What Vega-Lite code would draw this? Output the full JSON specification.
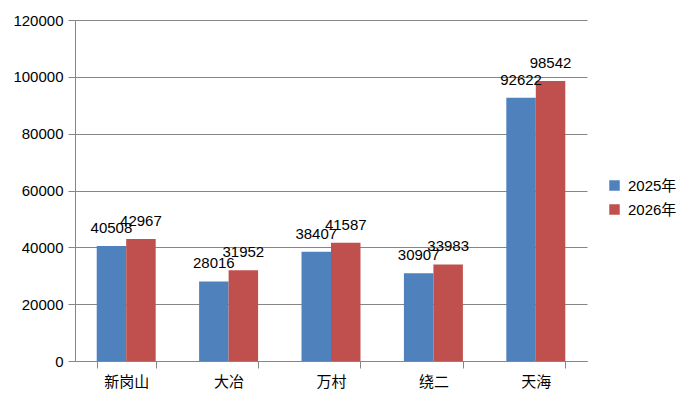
{
  "$schema": "https://vega.github.io/schema/vega-lite/v6.json",
  "width": 512,
  "height": 341,
  "autosize": {"type": "none"},
  "padding": {"left": 75, "top": 20, "right": 107, "bottom": 44},
  "background": "white",
  "config": {
    "font": "Liberation Sans, Noto Sans CJK SC",
    "view": {"stroke": null},
    "axis": {"labelFont": "Liberation Sans, Noto Sans CJK SC", "labelFontSize": 15, "labelColor": "#000000"},
    "legend": {"labelFont": "Liberation Sans, Noto Sans CJK SC", "labelFontSize": 15, "labelColor": "#000000"}
  },
  "data": {
    "values": [
      {"site": "新岗山", "year": "2025年", "value": 40508},
      {"site": "新岗山", "year": "2026年", "value": 42967},
      {"site": "大冶", "year": "2025年", "value": 28016},
      {"site": "大冶", "year": "2026年", "value": 31952},
      {"site": "万村", "year": "2025年", "value": 38407},
      {"site": "万村", "year": "2026年", "value": 41587},
      {"site": "绕二", "year": "2025年", "value": 30907},
      {"site": "绕二", "year": "2026年", "value": 33983},
      {"site": "天海", "year": "2025年", "value": 92622},
      {"site": "天海", "year": "2026年", "value": 98542}
    ]
  },
  "encoding": {
    "x": {
      "field": "site", "type": "nominal", "sort": null, "title": null,
      "scale": {"paddingInner": 0.424, "paddingOuter": 0.212},
      "axis": {"labelAngle": 0, "tickBand": "extent", "tickSize": 7, "tickColor": "#868686", "domainColor": "#868686", "labelPadding": 6, "grid": false}
    },
    "xOffset": {"field": "year", "type": "nominal", "scale": {"paddingInner": 0, "paddingOuter": 0}},
    "y": {
      "field": "value", "type": "quantitative", "title": null,
      "scale": {"domain": [0, 120000], "nice": false},
      "axis": {"values": [0, 20000, 40000, 60000, 80000, 100000, 120000], "format": "d", "tickSize": 7, "tickColor": "#868686", "domainColor": "#868686", "gridColor": "#868686", "labelPadding": 5}
    }
  },
  "layer": [
    {
      "mark": {"type": "bar"},
      "encoding": {
        "color": {
          "field": "year", "type": "nominal", "title": null,
          "scale": {"range": ["#4F81BD", "#C0504D"]},
          "legend": {"orient": "none", "legendX": 532, "legendY": 158, "symbolType": "square", "symbolSize": 110, "symbolStrokeWidth": 0, "rowPadding": 8, "labelOffset": 6}
        }
      }
    },
    {
      "mark": {"type": "text", "baseline": "alphabetic", "dy": -13, "fontSize": 15, "color": "#000000"},
      "encoding": {"text": {"field": "value", "type": "quantitative", "format": "d"}}
    }
  ]
}
